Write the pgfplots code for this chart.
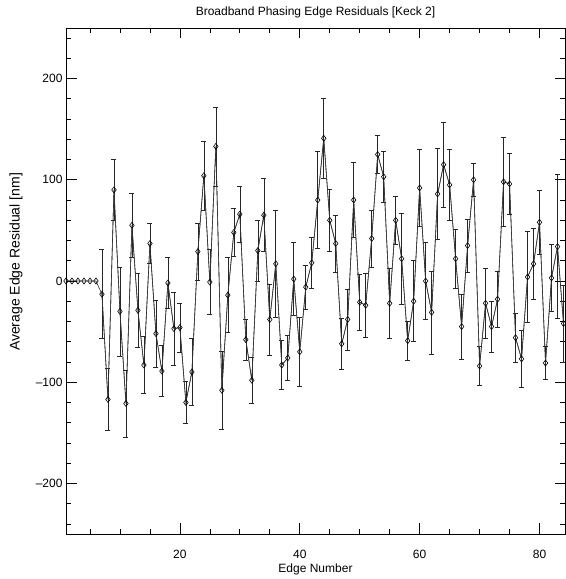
\documentclass[border=0pt]{standalone}
\usepackage{fontspec}
\setmainfont{Liberation Sans}
\usepackage{pgfplots}
\pgfplotsset{compat=1.18}
\usepackage{pgfplotstable}
\usetikzlibrary{calc}

\pgfplotstableread{
n y err
1 0 0
2 0 0
3 0 0
4 0 0
5 0 0
6 0 0
7 -13 44
8 -117 31
9 90 30
10 -30 44
11 -121 33
12 55 32
13 -29 37
14 -83 28
15 37 20
16 -52 33
17 -89 25
18 -2 25
19 -47 36
20 -46 24
21 -120 21
22 -90 33
23 29 28
24 104 34
25 -1 32
26 133 39
27 -108 39
28 -14 37
29 48 24
30 66 28
31 -58 20
32 -98 23
33 30 30
34 65 36
35 -38 35
36 17 53
37 -83 24
38 -76 22
39 2 36
40 -70 34
41 -6 22
42 18 25
43 80 48
44 141 40
45 60 31
46 37 28
47 -62 25
48 -38 30
49 80 37
50 -21 28
51 -24 32
52 42 28
53 125 19
54 103 25
55 -22 35
56 60 24
57 22 45
58 -59 19
59 -20 40
60 92 38
61 0 38
62 -31 41
63 86 45
64 115 42
65 95 35
66 22 29
67 -45 32
68 35 26
69 100 16
70 -84 19
71 -22 35
72 -45 25
73 -18 28
74 98 44
75 96 30
76 -56 24
77 -77 28
78 4 45
79 17 35
80 58 32
81 -81 16
82 3 33
83 34 71
84 -42 38
}\datatable

\begin{document}
\begin{tikzpicture}
\begin{axis}[name=ax,
  scale only axis, width=499pt, height=506pt,
  xmin=1, xmax=84.25, ymin=-250, ymax=250,
  xtick={20,40,60,80}, minor xtick={5,10,...,85},
  ytick={-200,-100,0,100,200}, minor ytick={-240,-220,...,240},
  yticklabels={–200,–100,0,100,200},
  major tick length=10.5pt, minor tick length=5pt,
  tick style={black, line width=0.7pt},
  axis line style={line width=0.8pt},
  font=\fontsize{12}{14}\selectfont,
  /pgf/number format/assume math mode=true,
  xticklabel style={anchor=base, yshift=-24pt},
  title={Broadband Phasing Edge Residuals [Keck 2]},
  title style={at={(axis description cs:0.5,1)}, anchor=base, yshift=6.5pt},
  xlabel={Edge Number},
  xlabel style={at={(axis description cs:0.5,0)}, anchor=base, yshift=-38pt},
  ylabel={Average Edge Residual [nm]},
  ylabel style={at={(axis description cs:-0.1002,0.5375)}, anchor=center, font=\fontsize{14}{16}\selectfont},
]
\addplot[black!80, line width=0.6pt, mark=none,
  skip coords between index={0}{6},
  error bars/.cd, y dir=both, y explicit,
  error bar style={black!85, line width=0.6pt},
  error mark options={rotate=90, mark size=2.5pt, black!85, line width=0.6pt}]
  table[x=n, y=y, y error=err] {\datatable};
\addplot[black!80, line width=0.6pt, mark=diamond,
  mark size=3pt, mark options={solid, fill=white, draw=black, line width=0.6pt}]
  table[x=n, y=y] {\datatable};
\end{axis}
\pgfresetboundingbox
\path ($(ax.south west)+(-66pt,-45pt)$) rectangle ($(ax.north east)+(0pt,28pt)$);
\end{tikzpicture}
\end{document}
